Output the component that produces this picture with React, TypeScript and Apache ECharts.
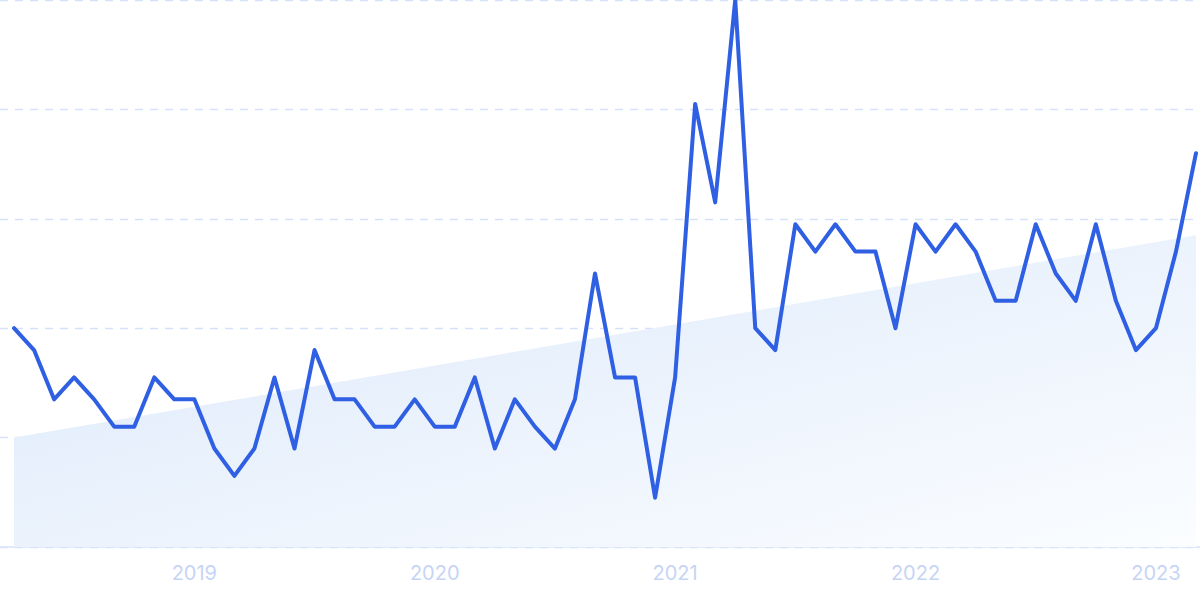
import React, { useEffect, useRef } from "react";
import * as echarts from "echarts";

const months: string[] = [];
for (let y = 2018; y <= 2023; y++) {
  for (let m = 1; m <= 12; m++) {
    const key = `${y}-${String(m).padStart(2, "0")}`;
    if (key >= "2018-04" && key <= "2023-03") months.push(key);
  }
}

const interest = [
  40, 36, 27, 31, 27, 22, 22, 31, 27, 27,
  18, 13, 18, 31, 18, 36, 27, 27, 22, 22,
  27, 22, 22, 31, 18, 27, 22, 18, 27, 50,
  31, 31, 9, 31, 81, 63, 100, 40, 36, 59,
  54, 59, 54, 54, 40, 59, 54, 59, 54, 45,
  45, 59, 50, 45, 59, 45, 36, 40, 54, 72,
];

const trendStart = 20;
const trendEnd = 57;

const yearTicks = ["2019-01", "2020-01", "2021-01", "2022-01", "2023-01"];

export default function App() {
  const ref = useRef<HTMLDivElement>(null);
  useEffect(() => {
    document.body.style.margin = "0";
    const chart = echarts.init(ref.current!, null, { renderer: "svg" });
    const last = months.length - 1;
    chart.setOption({
      animation: false,
      grid: { left: 0, right: 0, top: 0, bottom: 52 },
      xAxis: {
        type: "value",
        min: -0.7,
        max: last + 0.2,
        axisLine: { show: true, lineStyle: { color: "#d8e5fa", width: 1.5 } },
        axisTick: { show: false },
        splitLine: { show: false },
        axisLabel: {
          customValues: yearTicks.map((t) => months.indexOf(t)),
          formatter: (v: number) => months[Math.round(v)]?.slice(0, 4) ?? "",
          color: "#c6d5f5",
          fontSize: 20,
          fontFamily: "Inter",
          margin: 16,
        },
      },
      yAxis: {
        type: "value",
        min: 0,
        max: 100,
        interval: 20,
        axisLabel: { show: false },
        axisLine: { show: false },
        axisTick: { show: false },
        splitLine: {
          show: true,
          lineStyle: { color: "#d5e1fb", type: [8, 7], width: 1.3 },
        },
      },
      series: [
        {
          type: "line",
          data: [
            [0, trendStart],
            [last, trendEnd],
          ],
          symbol: "none",
          lineStyle: { width: 0 },
          areaStyle: {
            origin: "start",
            opacity: 1,
            color: new echarts.graphic.LinearGradient(0, 0, 1, 1, [
              { offset: 0, color: "#dbe8fa" },
              { offset: 1, color: "#fbfdff" },
            ]),
          },
          z: 1,
        },
        {
          type: "line",
          data: interest.map((v, i) => [i, v]),
          symbol: "none",
          lineStyle: { color: "#2f5fe3", width: 4, join: "round", cap: "round" },
          z: 3,
        },
      ],
    });
    return () => chart.dispose();
  }, []);
  return <div ref={ref} style={{ width: 1200, height: 599 }} />;
}
